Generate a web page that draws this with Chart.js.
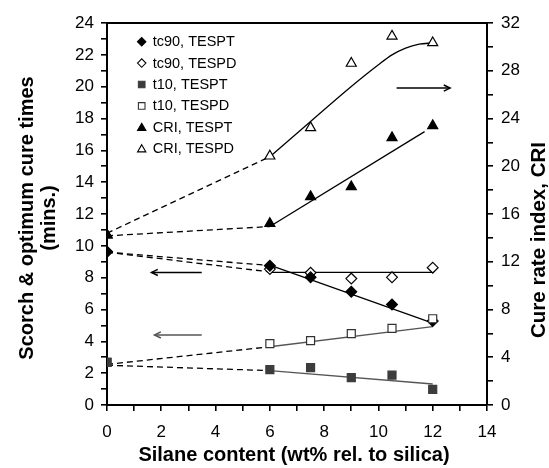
<!DOCTYPE html>
<html>
<head>
<meta charset="utf-8">
<style>
  html, body { margin: 0; padding: 0; background: #fff; }
  #wrap { width: 549px; height: 468px; position: relative; }
</style>
<script src="https://cdn.jsdelivr.net/npm/chart.js@4/dist/chart.umd.min.js"></script>
</head>
<body>
<div id="wrap"><canvas id="c" width="549" height="468"></canvas></div>
<script>
// ---- data ----
const silane = [0, 6, 7.5, 9, 10.5, 12];
const tc90TESPT = [9.63, 8.75, 8.02, 7.12, 6.32, 5.28];
const tc90TESPD = [9.63, 8.54, 8.31, 7.94, 8.02, 8.63];
const t10TESPT = [2.68, 2.22, 2.35, 1.72, 1.88, 0.98];
const t10TESPD = [2.68, 3.85, 4.04, 4.48, 4.81, 5.42];
const criTESPT = [14.24, 15.2, 17.45, 18.28, 22.39, 23.4];
const criTESPD = [14.24, 20.85, 23.23, 28.62, 30.9, 30.34];

// fitted trend lines (solid)
const fitX = [6, 12];
const tc90TESPTfit = [8.79, 5.15];
const tc90TESPDfit = [8.33, 8.33];
const t10TESPTfit = [2.16, 1.32];
const t10TESPDfit = [3.66, 4.92];
const criTESPTfitX = [6, 11.7];
const criTESPTfit = [14.95, 22.9];
const criTESPDfitX = [6, 7.5, 9, 10, 10.5, 11, 11.5, 12];
const criTESPDfit = [20.8, 23.75, 26.68, 28.5, 29.33, 29.9, 30.23, 30.33];

// dashed extrapolation lines back to zero silane
const dashX = [0, 6];
const tc90TESPTdash = [9.6, 8.76];
const tc90TESPDdash = [9.6, 8.36];
const t10TESPTdash = [2.5, 2.16];
const t10TESPDdash = [2.55, 3.66];
const criTESPTdash = [14.17, 14.95];
const criTESPDdash = [14.39, 20.8];

// axis ticks
const xTicks = { min: 0, max: 14, step: 1, labelEvery: 2 };
const yTicks = { min: 0, max: 24, step: 1, labelEvery: 2 };
const y2Ticks = { min: 0, max: 32, step: 2, labelEvery: 4 };

// texts
const legendLabels = ['tc90, TESPT', 'tc90, TESPD', 't10, TESPT', 't10, TESPD', 'CRI, TESPT', 'CRI, TESPD'];
const xTitle = 'Silane content (wt% rel. to silica)';
const yTitleLines = ['Scorch & optimum cure times', '(mins.)'];
const y2Title = 'Cure rate index, CRI';

// arrows: [x1, y1, x2, y2, axis, color]
const arrows = [
  [3.49, 8.33, 1.64, 8.33, 'y', '#000'],
  [3.49, 4.4, 1.75, 4.4, 'y', '#555'],
  [10.67, 26.55, 12.64, 26.55, 'y2', '#000']
];

// ---- build ----
const FONT = "'Liberation Sans', Arial, Helvetica, sans-serif";
function pts(xs, ys) { return xs.map((x, i) => ({ x: x, y: ys[i] })); }

const markers = [
  { data: tc90TESPT, style: 'diamond', fill: '#000', stroke: '#000', axis: 'y', r: 5.4 },
  { data: tc90TESPD, style: 'diamond', fill: '#fff', stroke: '#000', axis: 'y', r: 5.4 },
  { data: t10TESPT, style: 'square', fill: '#3c3c3c', stroke: '#3c3c3c', axis: 'y', r: 4 },
  { data: t10TESPD, style: 'square', fill: '#fff', stroke: '#333', axis: 'y', r: 4 },
  { data: criTESPT, style: 'triangle', fill: '#000', stroke: '#000', axis: 'y2', r: 5.8 },
  { data: criTESPD, style: 'triangle', fill: '#fff', stroke: '#000', axis: 'y2', r: 5.8 }
];
const csStyle = { diamond: 'rectRot', square: 'rect', triangle: 'triangle' };

const datasets = [];
const markerOrder = [1, 0, 3, 2, 5, 4];
markerOrder.forEach((mi, k) => {
  const m = markers[mi];
  datasets.push({
    label: legendLabels[mi],
    data: pts(silane, m.data),
    yAxisID: m.axis,
    showLine: false,
    pointStyle: csStyle[m.style],
    pointRadius: m.style === 'square' ? m.r * 1.414 : m.r,
    pointBackgroundColor: m.fill,
    pointBorderColor: m.stroke,
    pointBorderWidth: 1.2,
    order: 10 - k
  });
});
function lineDs(xs, ys, axis, color, dash, tension) {
  return {
    data: pts(xs, ys), yAxisID: axis, showLine: true, pointRadius: 0,
    borderColor: color, borderWidth: 1.3, borderDash: dash ? [6, 4] : [],
    tension: tension || 0, cubicInterpolationMode: tension ? 'monotone' : 'default',
    order: 50
  };
}
datasets.push(lineDs(fitX, tc90TESPTfit, 'y', '#000'));
datasets.push(lineDs(fitX, tc90TESPDfit, 'y', '#000'));
datasets.push(lineDs(fitX, t10TESPTfit, 'y', '#555'));
datasets.push(lineDs(fitX, t10TESPDfit, 'y', '#555'));
datasets.push(lineDs(criTESPTfitX, criTESPTfit, 'y2', '#000'));
datasets.push(lineDs(criTESPDfitX, criTESPDfit, 'y2', '#000', false, 0.4));
datasets.push(lineDs(dashX, tc90TESPTdash, 'y', '#000', true));
datasets.push(lineDs(dashX, tc90TESPDdash, 'y', '#000', true));
datasets.push(lineDs(dashX, t10TESPTdash, 'y', '#000', true));
datasets.push(lineDs(dashX, t10TESPDdash, 'y', '#000', true));
datasets.push(lineDs(dashX, criTESPTdash, 'y2', '#000', true));
datasets.push(lineDs(dashX, criTESPDdash, 'y2', '#000', true));

function drawMarker(ctx, style, x, y, r, fill, stroke, lw) {
  ctx.save();
  ctx.beginPath();
  if (style === 'diamond') {
    ctx.moveTo(x - r, y); ctx.lineTo(x, y - r); ctx.lineTo(x + r, y); ctx.lineTo(x, y + r);
  } else if (style === 'square') {
    ctx.rect(x - r, y - r, 2 * r, 2 * r);
  } else {
    const h = r * Math.sqrt(3) / 2;
    ctx.moveTo(x, y - r); ctx.lineTo(x + h, y + r / 2); ctx.lineTo(x - h, y + r / 2);
  }
  ctx.closePath();
  ctx.fillStyle = fill; ctx.fill();
  ctx.lineWidth = lw; ctx.strokeStyle = stroke; ctx.stroke();
  ctx.restore();
}

const decor = {
  id: 'decor',
  afterDatasetsDraw(chart) {
    const ctx = chart.ctx, a = chart.chartArea;
    const xs = chart.scales.x;
    ctx.save();
    ctx.strokeStyle = '#000'; ctx.lineWidth = 2;
    ctx.beginPath(); ctx.moveTo(a.left - 1, a.top); ctx.lineTo(a.right + 1, a.top); ctx.stroke();
    ctx.restore();
    // legend
    const lx = 141.7, ly0 = 41.7, dy = 21.4;
    legendLabels.forEach((lab, i) => {
      const m = markers[i];
      const y = ly0 + i * dy;
      const rr = m.style === 'square' ? 3.3 : (m.style === 'diamond' ? 4.2 : 4.8);
      drawMarker(ctx, m.style, lx, y + (m.style === 'triangle' ? 0.8 : 0), rr, m.fill, m.stroke, 1.1);
      ctx.save();
      ctx.fillStyle = '#000';
      ctx.font = '14.5px ' + FONT;
      ctx.textBaseline = 'middle';
      ctx.textAlign = 'left';
      ctx.fillText(lab, 152.7, y + 0.5);
      ctx.restore();
    });
    // arrows
    arrows.forEach(ar => {
      const ys = chart.scales[ar[4]];
      const x1 = xs.getPixelForValue(ar[0]), y1 = ys.getPixelForValue(ar[1]);
      const x2 = xs.getPixelForValue(ar[2]), y2 = ys.getPixelForValue(ar[3]);
      const ang = Math.atan2(y2 - y1, x2 - x1);
      ctx.save();
      ctx.strokeStyle = ar[5]; ctx.lineWidth = 1.5;
      ctx.beginPath(); ctx.moveTo(x1, y1); ctx.lineTo(x2, y2); ctx.stroke();
      const hl = 7, hw = 0.45;
      ctx.beginPath();
      ctx.moveTo(x2 - hl * Math.cos(ang - hw), y2 - hl * Math.sin(ang - hw));
      ctx.lineTo(x2, y2);
      ctx.lineTo(x2 - hl * Math.cos(ang + hw), y2 - hl * Math.sin(ang + hw));
      ctx.stroke();
      ctx.restore();
    });
  },
  afterDraw(chart) {
    const ctx = chart.ctx, a = chart.chartArea;
    ctx.save();
    ctx.fillStyle = '#000';
    ctx.textAlign = 'center';
    ctx.textBaseline = 'middle';
    ctx.font = 'bold 20px ' + FONT;
    ctx.fillText(xTitle, (a.left + a.right) / 2 - 3, 455);
    // left title
    ctx.save();
    ctx.translate(27, 218);
    ctx.rotate(-Math.PI / 2);
    ctx.fillText(yTitleLines[0], 0, 0);
    ctx.fillText(yTitleLines[1], 0, 22);
    ctx.restore();
    // right title
    ctx.save();
    ctx.font = 'bold 20.5px ' + FONT;
    ctx.translate(539.5, 240);
    ctx.rotate(-Math.PI / 2);
    ctx.fillText(y2Title, 0, 0);
    ctx.restore();
    ctx.restore();
  }
};

function axisCfg(t, pos, extra) {
  return Object.assign({
    type: 'linear', position: pos, min: t.min, max: t.max,
    ticks: {
      stepSize: t.step, autoSkip: false, maxRotation: 0, color: '#000',
      font: { family: FONT, size: 17 },
      callback: v => (Math.round(v) % t.labelEvery === 0 ? String(v) : '')
    },
    grid: { drawOnChartArea: false, drawTicks: true, tickLength: 6, color: '#000', lineWidth: 1.6 },
    border: { display: true, color: '#000', width: 2 }
  }, extra || {});
}

const xAxis = axisCfg(xTicks, 'bottom', { afterFit: s => { s.height = 63; } });
xAxis.ticks.padding = 11;
const yAxis = axisCfg(yTicks, 'left', { afterFit: s => { s.width = 107; } });
yAxis.ticks.padding = 7;
const y2Axis = axisCfg(y2Ticks, 'right', { afterFit: s => { s.width = 62; } });
y2Axis.ticks.padding = 8;

new Chart(document.getElementById('c'), {
  type: 'scatter',
  data: { datasets: datasets },
  options: {
    responsive: false,
    animation: false,
    devicePixelRatio: 1,
    layout: { padding: { top: 23, left: 0, right: 0, bottom: 0 } },
    plugins: { legend: { display: false }, tooltip: { enabled: false }, title: { display: false } },
    scales: { x: xAxis, y: yAxis, y2: y2Axis }
  },
  plugins: [decor]
});
</script>
</body>
</html>
